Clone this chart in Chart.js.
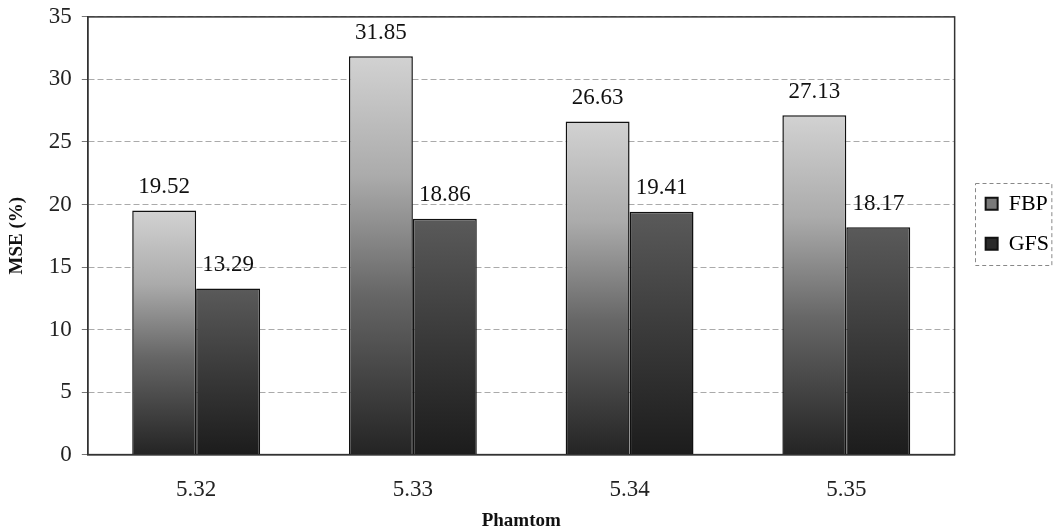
<!DOCTYPE html>
<html>
<head>
<meta charset="utf-8">
<script src="https://cdn.jsdelivr.net/npm/chart.js@4"></script>
<style>
  html, body { margin: 0; padding: 0; background: #fff; }
  #wrap { width: 1059px; height: 532px; }
</style>
</head>
<body>
<div id="wrap"><canvas id="grafico" width="1059" height="532"></canvas></div>
<script>
// Datos
const categorias = ["5.32", "5.33", "5.34", "5.35"];
const valoresFBP = [19.52, 31.85, 26.63, 27.13];
const valoresGFS = [13.29, 18.86, 19.41, 18.17];
const ticksY = [0, 5, 10, 15, 20, 25, 30, 35];

const serif = "'Liberation Serif', 'DejaVu Serif', serif";

// degradado vertical por barra (claro arriba, oscuro abajo)
function degradado(colores, fallback) {
  return function (ctx) {
    const chart = ctx.chart;
    if (!chart.chartArea || ctx.type !== "data") return fallback;
    const y = chart.scales.y;
    const top = y.getPixelForValue(ctx.raw);
    const bottom = y.getPixelForValue(0);
    if (!isFinite(top) || !isFinite(bottom) || top === bottom) return fallback;
    const g = chart.ctx.createLinearGradient(0, top, 0, bottom);
    colores.forEach(function (c) { g.addColorStop(c[0], c[1]); });
    return g;
  };
}

// etiquetas de valor encima de cada barra
const etiquetas = {
  id: "etiquetas",
  afterDatasetsDraw(chart) {
    const ctx = chart.ctx;
    ctx.save();
    ctx.font = "23px " + serif;
    ctx.fillStyle = "#111";
    ctx.textAlign = "center";
    ctx.textBaseline = "bottom";
    chart.data.datasets.forEach(function (ds, i) {
      chart.getDatasetMeta(i).data.forEach(function (bar, j) {
        ctx.fillText(ds.data[j].toFixed(2), bar.x, bar.y - 12);
      });
    });
    ctx.restore();
  }
};

// ajustes de la leyenda: un poco más ancha, items corridos a la derecha
const leyenda = {
  id: "leyenda",
  beforeLayout(chart) {
    const lg = chart.legend;
    if (lg && !lg._ajustada) {
      const fit = lg.fit;
      lg.fit = function () { fit.call(this); this.width += 9; };
      lg._ajustada = true;
    }
  },
  afterLayout(chart) {
    const lg = chart.legend;
    lg.left += 13;
    lg.width -= 13;
    lg.bottom -= 24;
    lg.height -= 24;
  }
};

// marco del área de trazado y recuadro punteado de la leyenda
const marcos = {
  id: "marcos",
  beforeDatasetsDraw(chart) {
    const a = chart.chartArea;
    const ctx = chart.ctx;
    ctx.save();
    ctx.strokeStyle = "#333";
    ctx.lineWidth = 1.5;
    ctx.strokeRect(a.left, a.top, a.right - a.left, a.bottom - a.top);
    ctx.restore();
  },
  afterDraw(chart) {
    const cajas = chart.legend.legendHitBoxes;
    if (!cajas || !cajas.length) return;
    let x0 = Infinity, y0 = Infinity, x1 = -Infinity, y1 = -Infinity;
    cajas.forEach(function (b) {
      x0 = Math.min(x0, b.left); y0 = Math.min(y0, b.top);
      x1 = Math.max(x1, b.left + b.width); y1 = Math.max(y1, b.top + b.height);
    });
    const ctx = chart.ctx;
    ctx.save();
    ctx.strokeStyle = "#888";
    ctx.lineWidth = 1;
    ctx.setLineDash([4, 3]);
    ctx.strokeRect(Math.round(x0 - 11) + 0.5, Math.round(y0 - 10) + 0.5, (x1 - x0) + 13, (y1 - y0) + 20);
    ctx.restore();
  }
};

new Chart(document.getElementById("grafico"), {
  type: "bar",
  data: {
    labels: categorias,
    datasets: [
      {
        label: "FBP",
        data: valoresFBP,
        backgroundColor: degradado([[0, "#d2d2d2"], [0.3, "#ababab"], [0.6, "#666666"], [1, "#242424"]], "#999"),
        borderColor: "#111",
        borderWidth: 1.5
      },
      {
        label: "GFS",
        data: valoresGFS,
        backgroundColor: degradado([[0, "#5a5a5a"], [0.5, "#3a3a3a"], [1, "#1c1c1c"]], "#333"),
        borderColor: "#111",
        borderWidth: 1.5
      }
    ]
  },
  options: {
    responsive: false,
    animation: false,
    layout: { padding: { top: 0, right: 4, left: 6, bottom: 0 } },
    datasets: { bar: { categoryPercentage: 0.59, barPercentage: 1.0 } },
    plugins: {
      tooltip: { enabled: false },
      legend: {
        position: "right",
        fullSize: false,
        labels: {
          font: { family: serif, size: 22 },
          color: "#111",
          boxWidth: 12,
          boxHeight: 12,
          padding: 18,
          generateLabels: function () {
            return [
              { text: "FBP", fillStyle: "#7a7a7a", strokeStyle: "#111", lineWidth: 2, datasetIndex: 0 },
              { text: "GFS", fillStyle: "#2a2a2a", strokeStyle: "#111", lineWidth: 2, datasetIndex: 1 }
            ];
          }
        }
      }
    },
    scales: {
      x: {
        grid: { display: false, drawTicks: false },
        border: { color: "#333", width: 1.5 },
        ticks: { font: { family: serif, size: 23 }, color: "#222", padding: 22 },
        title: {
          display: true,
          text: "Phamtom",
          font: { family: serif, size: 19, weight: "bold" },
          color: "#111",
          padding: { top: -17, bottom: 0 }
        }
      },
      y: {
        min: 0,
        max: 35,
        afterBuildTicks: function (axis) {
          axis.ticks = ticksY.map(function (v) { return { value: v }; });
        },
        grid: { color: "#aaaaaa", tickLength: 6, tickColor: "#777" },
        border: { color: "#333", width: 1.5, dash: [6, 3] },
        ticks: { font: { family: serif, size: 23, lineHeight: 0.6 }, color: "#222", padding: 10 },
        title: {
          display: true,
          text: "MSE (%)",
          font: { family: serif, size: 19, weight: "bold" },
          color: "#111",
          padding: { top: 0, bottom: 10 }
        }
      }
    }
  },
  plugins: [etiquetas, leyenda, marcos]
});
</script>
</body>
</html>
